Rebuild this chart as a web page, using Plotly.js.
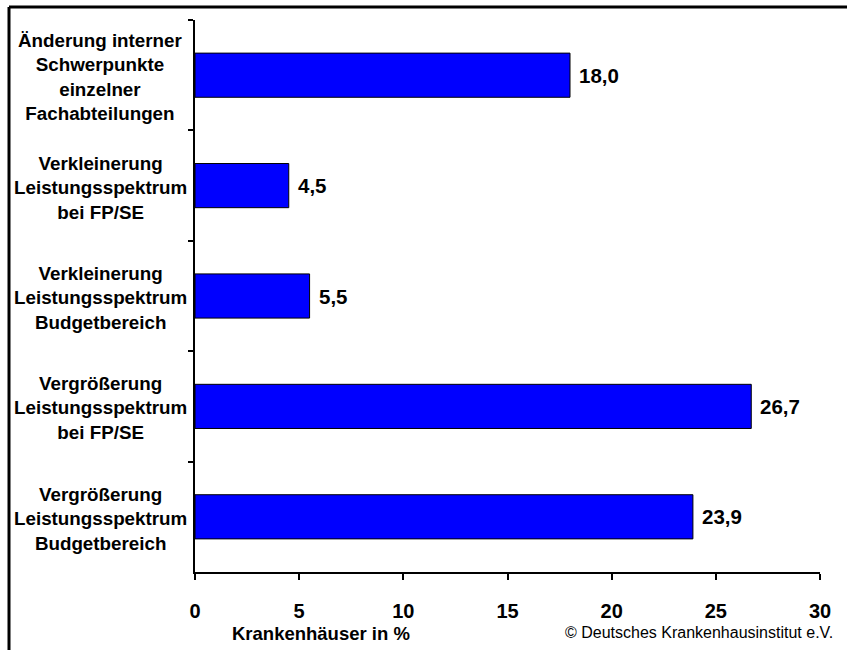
<!DOCTYPE html>
<html>
<head>
<meta charset="utf-8">
<script src="https://cdn.plot.ly/plotly-3.0.1.min.js"></script>
<style>
html,body{margin:0;padding:0;background:#fff;}
#chart{width:847px;height:650px;}
</style>
</head>
<body>
<div id="chart"></div>
<script>
// Data (top to bottom)
const categories = [
  "Änderung interner Schwerpunkte einzelner Fachabteilungen",
  "Verkleinerung Leistungsspektrum bei FP/SE",
  "Verkleinerung Leistungsspektrum Budgetbereich",
  "Vergrößerung Leistungsspektrum bei FP/SE",
  "Vergrößerung Leistungsspektrum Budgetbereich"
];
const categoryLabels = [
  "Änderung interner<br>Schwerpunkte<br>einzelner<br>Fachabteilungen",
  "Verkleinerung<br>Leistungsspektrum<br>bei FP/SE",
  "Verkleinerung<br>Leistungsspektrum<br>Budgetbereich",
  "Vergrößerung<br>Leistungsspektrum<br>bei FP/SE",
  "Vergrößerung<br>Leistungsspektrum<br>Budgetbereich"
];
const values = [18.0, 4.5, 5.5, 26.7, 23.9];
const xTickVals = [0, 5, 10, 15, 20, 25, 30];
const xTitle = "Krankenhäuser in %";
const sourceText = "© Deutsches Krankenhausinstitut e.V.";

const FONT = "Arial, 'Liberation Sans', Helvetica, sans-serif";
const fmt = v => v.toFixed(1).replace(".", ",");

const trace = {
  type: "bar",
  orientation: "h",
  x: values,
  y: categories,
  width: 0.4,
  marker: {color: "#0000FF", line: {color: "#000000", width: 1}},
  hoverinfo: "none"
};

const annotations = [];
categories.forEach((c, i) => {
  annotations.push({
    xref: "paper", yref: "y", x: -0.152, y: c,
    xanchor: "center", yanchor: "middle", yshift: -2,
    text: categoryLabels[i], showarrow: false, align: "center",
    font: {family: FONT, size: 18.8, color: "#000", weight: "bold"}
  });
  annotations.push({
    xref: "x", yref: "y", x: values[i], y: c,
    xanchor: "left", yanchor: "middle", xshift: 7,
    text: fmt(values[i]), showarrow: false,
    font: {family: FONT, size: 20.5, color: "#000", weight: "bold"}
  });
});
annotations.push({
  xref: "paper", yref: "paper", x: 0.2016, y: -0.1123,
  xanchor: "center", yanchor: "middle", text: xTitle, showarrow: false,
  font: {family: FONT, size: 18.5, color: "#000", weight: "bold"}
});
annotations.push({
  xref: "paper", yref: "paper", x: 1.024, y: -0.1105,
  xanchor: "right", yanchor: "middle", text: sourceText, showarrow: false,
  font: {family: FONT, size: 16, color: "#000"}
});

const layout = {
  width: 847, height: 650,
  margin: {l: 195, r: 27, t: 20, b: 78},
  paper_bgcolor: "#fff", plot_bgcolor: "#fff",
  showlegend: false,
  font: {family: FONT, color: "#000"},
  xaxis: {
    range: [0, 30], tickvals: xTickVals, ticktext: xTickVals.map(String),
    showgrid: false, zeroline: false,
    showline: true, linecolor: "#000", linewidth: 2,
    ticks: "outside", ticklen: 6, tickwidth: 2, tickcolor: "#000",
    ticklabelstandoff: 14,
    tickfont: {family: FONT, size: 20, color: "#000", weight: "bold"},
    fixedrange: true
  },
  yaxis: {
    type: "category", autorange: "reversed",
    showgrid: false, zeroline: false,
    showline: true, linecolor: "#000", linewidth: 2,
    ticks: "outside", tickson: "boundaries", ticklen: 5, tickwidth: 2, tickcolor: "#000",
    showticklabels: false,
    fixedrange: true
  },
  annotations: annotations,
  shapes: [
    {type: "line", xref: "paper", yref: "paper", x0: -0.2976, x1: 1.05, y0: 1.0236, y1: 1.0236,
     line: {color: "#000", width: 3}},
    {type: "line", xref: "paper", yref: "paper", x0: -0.2976, x1: -0.2976, y0: 1.0236, y1: -0.15,
     line: {color: "#000", width: 3}}
  ]
};

Plotly.newPlot("chart", [trace], layout, {displayModeBar: false, staticPlot: true});
</script>
</body>
</html>
